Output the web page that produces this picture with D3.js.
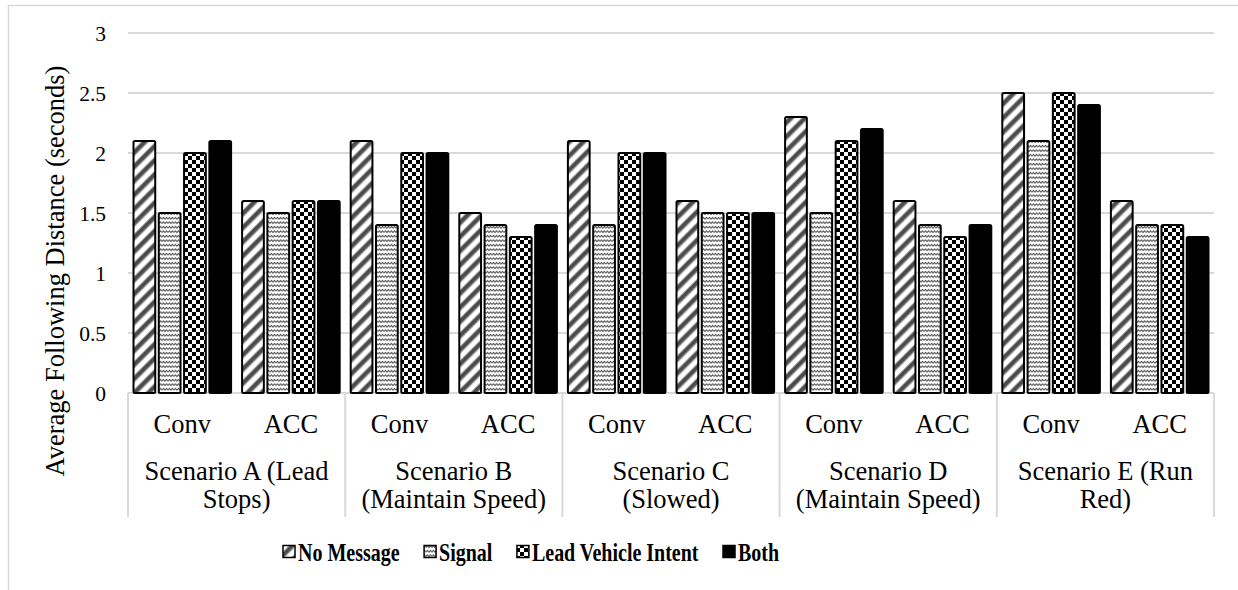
<!DOCTYPE html>
<html>
<head>
<meta charset="utf-8">
<script src="https://cdn.jsdelivr.net/npm/d3@7"></script>
<style>
  html, body { margin: 0; padding: 0; background: #fff; }
  svg { display: block; }
  text { font-family: "Liberation Serif", "DejaVu Serif", serif; fill: #000; }
</style>
</head>
<body>
<svg id="chart" width="1238" height="590"></svg>
<script>
// Scenario groups (outer axis level), each split into two driving modes (inner level)
const scenarios = [
  ["Scenario A (Lead", "Stops)"],
  ["Scenario B", "(Maintain Speed)"],
  ["Scenario C", "(Slowed)"],
  ["Scenario D", "(Maintain Speed)"],
  ["Scenario E (Run", "Red)"]
];
const modes = ["Conv", "ACC"];

const seriesNames = ["No Message", "Signal", "Lead Vehicle Intent", "Both"];

// Average following distance (s), ordered A-Conv, A-ACC, B-Conv, B-ACC, ...
const noMessage  = [2.1, 1.6, 2.1, 1.5, 2.1, 1.6, 2.3, 1.6, 2.5, 1.6];
const signal     = [1.5, 1.5, 1.4, 1.4, 1.4, 1.5, 1.5, 1.4, 2.1, 1.4];
const leadIntent = [2.0, 1.6, 2.0, 1.3, 2.0, 1.5, 2.1, 1.3, 2.5, 1.4];
const both       = [2.1, 1.6, 2.0, 1.4, 2.0, 1.5, 2.2, 1.4, 2.4, 1.3];

const yTicks = [0, 0.5, 1, 1.5, 2, 2.5, 3];
const yTitle = "Average Following Distance (seconds)";

const seriesValues = [noMessage, signal, leadIntent, both];
const fills = ["url(#pat-stripe)", "url(#pat-wave)", "url(#pat-check)", "#000"];
const serif = "\"Liberation Serif\", \"DejaVu Serif\", serif";

// category keys: one per scenario x mode
const categories = [];
scenarios.forEach((s, i) => modes.forEach(m => categories.push(i + "|" + m)));

const svg = d3.select("#chart");
const grid = "#d9d9d9";

// ---------- fill patterns ----------
const defs = svg.append("defs");

const stripe = defs.append("pattern")
  .attr("id", "pat-stripe").attr("patternUnits", "userSpaceOnUse")
  .attr("width", 10).attr("height", 10)
  .attr("patternTransform", "rotate(45)");
stripe.append("rect").attr("width", 10).attr("height", 10).attr("fill", "#fff");
stripe.append("rect").attr("x", 0).attr("width", 5.5).attr("height", 10).attr("fill", "#9a9a9a");
stripe.append("rect").attr("x", 1).attr("width", 3.5).attr("height", 10).attr("fill", "#4a4a4a");

const wave = defs.append("pattern")
  .attr("id", "pat-wave").attr("patternUnits", "userSpaceOnUse")
  .attr("width", 6).attr("height", 4.5);
wave.append("rect").attr("width", 6).attr("height", 4.5).attr("fill", "#fff");
wave.append("path")
  .attr("d", "M0,3 L1.5,1.4 L3,3 L4.5,1.4 L6,3")
  .attr("fill", "none").attr("stroke", "#444").attr("stroke-width", 1);

const check = defs.append("pattern")
  .attr("id", "pat-check").attr("patternUnits", "userSpaceOnUse")
  .attr("width", 8).attr("height", 8);
check.append("rect").attr("width", 8).attr("height", 8).attr("fill", "#fff");
check.append("rect").attr("x", 0).attr("y", 0).attr("width", 4).attr("height", 4).attr("fill", "#000");
check.append("rect").attr("x", 4).attr("y", 4).attr("width", 4).attr("height", 4).attr("fill", "#000");

// ---------- chart frame ----------
svg.append("path")
  .attr("d", "M8.5,590 V5.5 H1238")
  .attr("fill", "none").attr("stroke", grid).attr("stroke-width", 1.5);

// ---------- scales ----------
const plotLeft = 128, plotRight = 1214, plotTop = 33, plotBottom = 393;

const y = d3.scaleLinear().domain([0, 3]).range([plotBottom, plotTop]);
const x0 = d3.scaleBand().domain(categories).range([plotLeft, plotRight]).padding(0);
const x1 = d3.scaleBand().domain(seriesNames)
  .range([5.5, x0.bandwidth() - 5.5]).paddingInner(0.14).paddingOuter(0);
const xScen = d3.scaleBand().domain(scenarios.map((s, i) => i)).range([plotLeft, plotRight]);

// ---------- gridlines ----------
svg.append("g").selectAll("line").data(yTicks).join("line")
  .attr("x1", plotLeft).attr("x2", plotRight)
  .attr("y1", d => y(d)).attr("y2", d => y(d))
  .attr("stroke", grid).attr("stroke-width", 2);

// ---------- y axis labels ----------
const yAxis = d3.axisLeft(y).tickValues(yTicks).tickSize(0).tickPadding(0)
  .tickFormat(d3.format("~g"));
const yg = svg.append("g").attr("transform", `translate(106,0)`).call(yAxis)
  .attr("font-family", serif).attr("font-size", 21.5);
yg.select(".domain").remove();
yg.selectAll("text")
  .attr("font-family", serif)
  .attr("font-size", 21.5).attr("fill", "#000")
  .attr("dy", "0.34em");

svg.append("text")
  .attr("transform", "translate(64,271) rotate(-90)")
  .attr("text-anchor", "middle")
  .attr("font-family", serif)
  .attr("font-size", 26.5)
  .text(yTitle);

// ---------- bars ----------
const gBars = svg.append("g");
seriesNames.forEach((name, si) => {
  gBars.append("g").selectAll("rect")
    .data(seriesValues[si].map((v, ci) => ({ v, cat: categories[ci] })))
    .join("rect")
    .attr("x", d => x0(d.cat) + x1(name))
    .attr("y", d => y(d.v))
    .attr("width", x1.bandwidth())
    .attr("height", d => y(0) - y(d.v))
    .attr("rx", 1.5)
    .attr("fill", fills[si])
    .attr("stroke", "#000").attr("stroke-width", 2);
});

// ---------- category axis (two levels) ----------
const sepX = scenarios.map((s, i) => xScen(i)).concat([plotRight]);
svg.append("g").selectAll("line").data(sepX).join("line")
  .attr("x1", d => d).attr("x2", d => d)
  .attr("y1", plotBottom).attr("y2", 517)
  .attr("stroke", grid).attr("stroke-width", 2);

svg.append("g").selectAll("text").data(categories).join("text")
  .attr("x", d => x0(d) + x0.bandwidth() / 2)
  .attr("y", 433)
  .attr("text-anchor", "middle")
  .attr("font-family", serif)
  .attr("font-size", 26.5)
  .text(d => d.split("|")[1]);

const scenG = svg.append("g").selectAll("text").data(scenarios).join("text")
  .attr("text-anchor", "middle")
  .attr("font-family", serif)
  .attr("font-size", 26.5);
scenG.selectAll("tspan").data((d, i) => d.map(line => ({ line, i }))).join("tspan")
  .attr("x", d => xScen(d.i) + xScen.bandwidth() / 2)
  .attr("y", (d, j) => 480 + j * 28)
  .text(d => d.line);

// ---------- legend ----------
const legend = svg.append("g");
let lx = 283;
seriesNames.forEach((name, si) => {
  const item = legend.append("g");
  item.append("rect")
    .attr("x", lx).attr("y", 545.5).attr("width", 12).attr("height", 12)
    .attr("fill", fills[si]).attr("stroke", "#000").attr("stroke-width", 1.5);
  const t = item.append("text")
    .attr("transform", `translate(${lx + 15},560.5) scale(0.8,1)`)
    .attr("font-family", serif)
    .attr("font-size", 25).attr("font-weight", "bold")
    .text(name);
  const w = t.node().getComputedTextLength() * 0.8;
  lx += 15 + w + 24.5;
});
</script>
</body>
</html>
